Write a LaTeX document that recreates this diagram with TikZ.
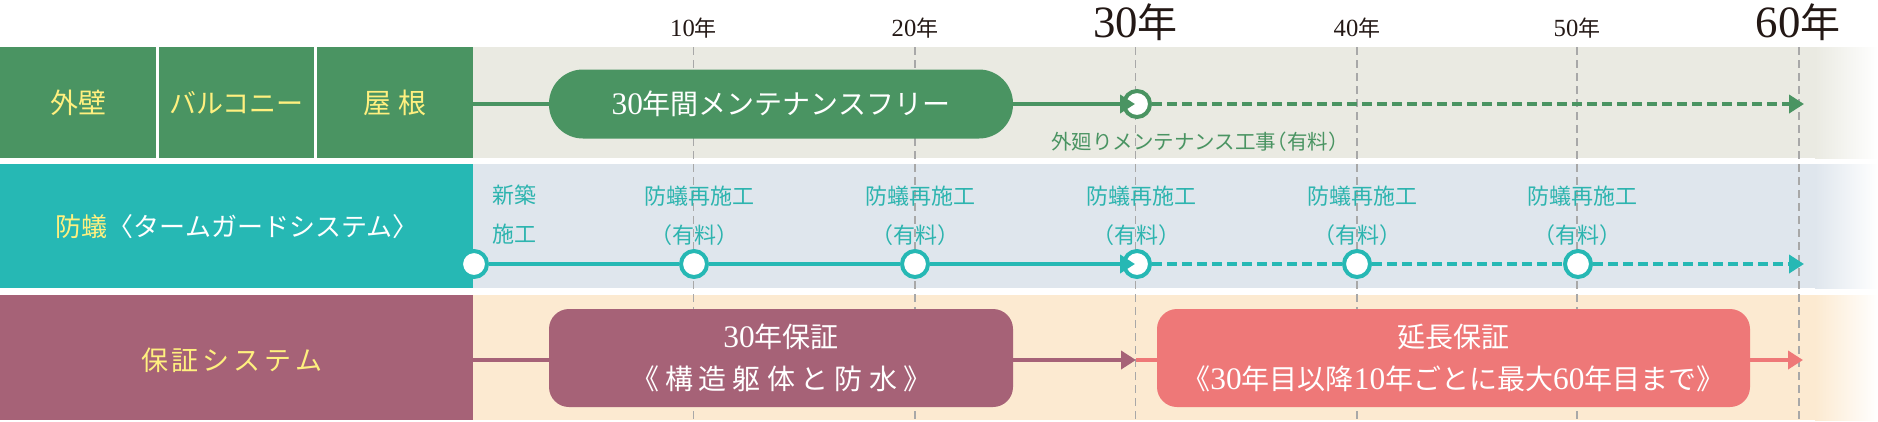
\documentclass[tikz,border=0pt]{standalone}
\usepackage{fontspec}
\setmainfont{Liberation Serif}
\newfontfamily\cjk{Noto Sans CJK JP}
\newfontfamily\digf[Scale=1.12]{Liberation Serif}
\usetikzlibrary{arrows.meta}
\definecolor{grn}{HTML}{4A9462}
\definecolor{bgA}{HTML}{EAEAE2}
\definecolor{tealc}{HTML}{26B8B4}
\definecolor{tealt}{HTML}{2DB4AF}
\definecolor{bgB}{HTML}{DFE6ED}
\definecolor{mauve}{HTML}{A66277}
\definecolor{bgC}{HTML}{FCEAD1}
\definecolor{coral}{HTML}{EE7878}
\definecolor{ylw}{HTML}{FFF07F}
\definecolor{gridc}{HTML}{A8A8A8}
\definecolor{ink}{HTML}{231815}
\newcommand\fs[1]{\fontsize{#1}{#1}\selectfont}
\newcommand\dg[1]{{\digf #1}}
\newcommand\ls{\hspace{4pt}}
\newcommand\lw{\hspace{6pt}}
\newcommand\yuryo{\hspace{-0.45em}（有料）\hspace{-0.45em}}
\begin{document}
\begin{tikzpicture}[x=1pt,y=-1pt,
  cell/.style={inner sep=0, outer sep=0, anchor=north west},
  gridline/.style={draw=gridc, line width=1.3pt, dash pattern=on 8pt off 5pt},
  circ/.style={circle, fill=white, line width=4pt, minimum size=26pt, inner sep=0},
  tipend/.style={-{Triangle[length=15pt,width=18pt]}},
  dline/.style={dash pattern=on 10pt off 5pt},
  gline/.style={draw=grn, line width=4pt},
  tline/.style={draw=tealc, line width=4pt},
  mline/.style={draw=mauve, line width=4pt},
  cline/.style={draw=coral, line width=4pt},
  box/.style={inner sep=0, minimum height=98pt, rounded corners=20pt, text=white, align=center, font=\cjk\fontsize{28}{42}\selectfont},
  yr/.style={anchor=base, text=ink, font=\cjk\fs{22}},
  yrbig/.style={anchor=base, text=ink, font=\cjk\fs{40}},
  tlab/.style={text=tealt, font=\cjk\fs{22}, inner sep=0}
]
\useasboundingbox (0,0) rectangle (1878,421);
% right backgrounds
\fill[bgA] (473,47) rectangle (1816,158);
\shade[left color=bgA, right color=white] (1815,47) rectangle (1878,158);
\fill[bgB] (473,164) rectangle (1816,288);
\shade[left color=bgB, right color=white] (1815,164) rectangle (1878,288);
\fill[bgC] (473,295) rectangle (1816,420);
\shade[left color=bgC, right color=white] (1815,295) rectangle (1878,420);
% left panels
\node[cell, fill=grn, minimum width=156pt, minimum height=111pt] (wall) at (0,47) {};
\node[cell, fill=grn, minimum width=155pt, minimum height=111pt] (balc) at (159,47) {};
\node[cell, fill=grn, minimum width=156pt, minimum height=111pt] (roof) at (317,47) {};
\node[text=ylw, font=\cjk\fs{28}] (twall) at (wall.center) {外壁};
\node[text=ylw, font=\cjk\fs{27}] (tbalc) at (balc.center) {バルコニー};
\node[text=ylw, font=\cjk\fs{28}] (troof) at (roof.center) {屋\hspace{8pt}根};
\node[cell, fill=tealc, minimum width=473pt, minimum height=124pt] (tpanel) at (0,164) {};
\node[text=white, font=\cjk\fs{26}] (ttp) at (237,227) {{\color{ylw}防蟻}〈タームガードシステム〉};
\node[cell, fill=mauve, minimum width=473pt, minimum height=125pt] (gpanel) at (0,295) {};
\node[text=ylw, font=\cjk\fs{27}] (tgp) at (232,360) {保\ls 証\ls シ\ls ス\ls テ\ls ム};
% grid lines
\foreach \x in {693.5,915,1135.5,1357,1577,1799}
  \draw[gridline] (\x,47) -- (\x,420);
% year labels
\node[yr] (y10) at (693.5,36) {\dg{10}年};
\node[yr] (y20) at (915,36) {\dg{20}年};
\node[yrbig] (y30) at (1135.5,37) {\dg{30}年};
\node[yr] (y40) at (1357,36) {\dg{40}年};
\node[yr] (y50) at (1577,36) {\dg{50}年};
\node[yrbig] (y60) at (1798,37) {\dg{60}年};
% row 1
\node[inner sep=0, minimum width=464pt, minimum height=69pt, rounded corners=34pt, fill=grn, text=white, font=\cjk\fs{28}] (p1) at (781,104) {\dg{30}年間メンテナンスフリー};
\draw[gline] (roof.east |- p1.west) -- (p1.west);
\node[circ, draw=grn] (c1) at (1137,104) {};
\draw[gline, tipend] (p1.east) -- ([xshift=-2pt]c1.center);
\coordinate (e1) at (1804,104);
\draw[gline, dline, tipend] (c1) -- (e1);
\node[text=grn, font=\cjk\fs{20.5}] (note1) at (1200,142) {外廻りメンテナンス工事\yuryo};
% row 2
\node[circ, draw=tealc] (s0) at (474,264) {};
\node[circ, draw=tealc] (s1) at (694,264) {};
\node[circ, draw=tealc] (s2) at (915,264) {};
\node[circ, draw=tealc] (s3) at (1137,264) {};
\node[circ, draw=tealc] (s4) at (1357,264) {};
\node[circ, draw=tealc] (s5) at (1578,264) {};
\coordinate (e2) at (1804,264);
\draw[tline] (s0) -- (s1);
\draw[tline] (s1) -- (s2);
\draw[tline, tipend] (s2) -- ([xshift=-2pt]s3.center);
\draw[tline, dline] (s3) -- (s4);
\draw[tline, dline] (s4) -- (s5);
\draw[tline, dline, tipend] (s5) -- (e2);
\node[tlab] (new1) at (514,195) {新築};
\node[tlab] (new2) at (514,234) {施工};
\foreach \x/\n in {699/a,920/b,1141/c,1362/d,1582/e}{
  \node[tlab] (r\n) at (\x,196) {防蟻再施工};
  \node[tlab] (f\n) at (\x,235) {\yuryo};
}
% row 3
\node[box, fill=mauve, minimum width=464pt] (b1) at (781,358) {\dg{30}年保証\\《\lw 構\lw 造\lw 躯\lw 体\lw と\lw 防\lw 水\lw 》};
\coordinate (m3) at (1136,360);
\draw[mline] (gpanel.east |- m3) -- (b1.west |- m3);
\draw[mline, tipend] (b1.east |- m3) -- (m3);
\node[box, fill=coral, minimum width=593pt] (b2) at (1453.5,358) {延長保証\\《\dg{30}年目以降\dg{10}年ごとに最大\dg{60}年目まで》};
\draw[cline] (m3) -- (b2.west |- m3);
\coordinate (e3) at (1803,360);
\draw[cline, tipend] (b2.east |- m3) -- (e3);
\end{tikzpicture}
\end{document}
